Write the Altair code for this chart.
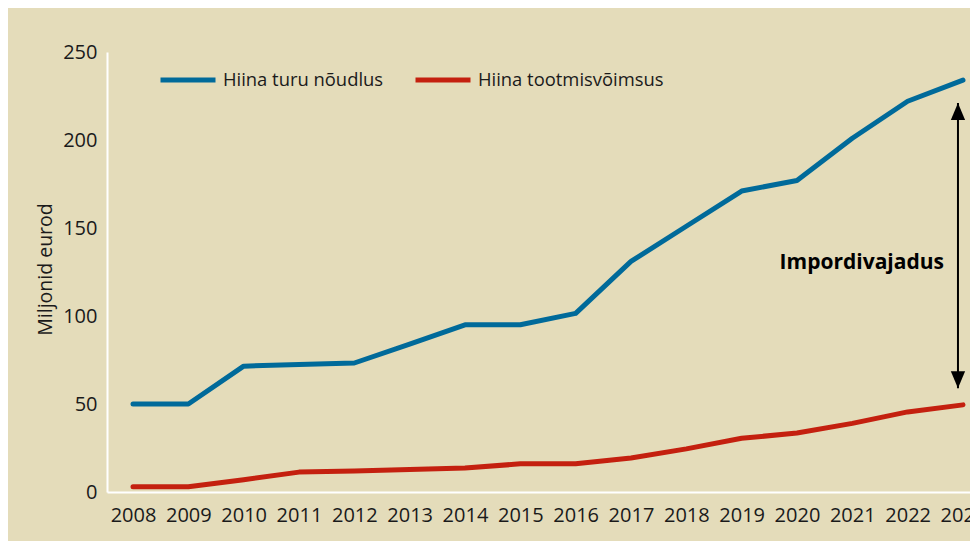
import altair as alt
import pandas as pd

years = list(range(2008, 2024))
demand = [50, 50, 71.5, 72.5, 73.3, 84, 95, 95, 101.5, 131, 151, 171, 177, 201, 222, 234]
capacity = [3, 3, 7, 11.3, 12, 12.8, 13.6, 16, 16, 19.3, 24.5, 30.5, 33.5, 39, 45.5, 49.5]
series_names = ["Hiina turu nõudlus", "Hiina tootmisvõimsus"]
series_colors = ["#006a9a", "#c4200f"]

annot_label = ["Impordivajadus"]
annot_year = [2023]
annot_top = [221]
annot_bottom = [59]
annot_mid = [130]

rows = []
for y, d, c in zip(years, demand, capacity):
    rows.append({"year": y, "value": d, "series": series_names[0]})
    rows.append({"year": y, "value": c, "series": series_names[1]})
df = pd.DataFrame(rows)

ann = pd.DataFrame({"year": annot_year, "top": annot_top, "bottom": annot_bottom,
                    "mid": annot_mid, "label": annot_label})

FONT = "Open Sans"
TXT = "#1a1a1a"
FS = 20

xscale = alt.Scale(domain=[2007.53, 2023.127], nice=False, zero=False)
yscale = alt.Scale(domain=[0, 250], nice=False)

lines = alt.Chart(df).mark_line(strokeWidth=5, strokeCap="round", strokeJoin="round").encode(
    x=alt.X("year:Q", scale=xscale,
            axis=alt.Axis(values=years, format="d", title=None, ticks=False, grid=False,
                          domainColor="white", domainWidth=2, labelPadding=13,
                          labelFontSize=FS, labelColor=TXT, labelFont=FONT,
                          labelFlush=False, labelOverlap=False)),
    y=alt.Y("value:Q", scale=yscale,
            axis=alt.Axis(values=[0, 50, 100, 150, 200, 250], title="Miljonid eurod",
                          ticks=False, grid=False, domainColor="white", domainWidth=2,
                          labelPadding=10, labelFontSize=FS, labelColor=TXT, labelFont=FONT,
                          titleFont=FONT, titleFontSize=19.5, titleFontWeight="normal",
                          titleColor=TXT, titleX=-62, titleY=217, titleAngle=270,
                          titleAlign="center", titleBaseline="middle")),
    color=alt.Color("series:N", scale=alt.Scale(domain=series_names, range=series_colors),
                    legend=alt.Legend(title=None, orient="none", legendX=51, legendY=-2,
                                      direction="horizontal", symbolType="stroke",
                                      symbolSize=3025, symbolStrokeWidth=5,
                                      labelFontSize=18.4, labelFont=FONT, labelColor=TXT,
                                      labelOffset=5, columnPadding=21, labelLimit=400)),
    order="year:Q",
)

rule = alt.Chart(ann).mark_rule(strokeWidth=2, color="black", xOffset=-5).encode(
    x=alt.X("year:Q", scale=xscale), y=alt.Y("top:Q", scale=yscale), y2="bottom:Q")

head_up = alt.Chart(ann).mark_point(shape="M0,0L-0.42,1L0.42,1Z", filled=True, opacity=1,
                                    color="black", size=1156, xOffset=-5).encode(
    x=alt.X("year:Q", scale=xscale), y=alt.Y("top:Q", scale=yscale))
head_down = alt.Chart(ann).mark_point(shape="M0,0L-0.42,-1L0.42,-1Z", filled=True, opacity=1,
                                      color="black", size=1156, xOffset=-5).encode(
    x=alt.X("year:Q", scale=xscale), y=alt.Y("bottom:Q", scale=yscale))

label = alt.Chart(ann).mark_text(align="right", baseline="middle", dx=-19, fontSize=21,
                                 fontWeight="bold", font=FONT, color="black").encode(
    x=alt.X("year:Q", scale=xscale), y=alt.Y("mid:Q", scale=yscale), text="label:N")

chart = alt.layer(lines, rule, head_up, head_down, label).properties(
    width=863, height=440, background="#e4dcba",
    padding={"left": 99, "top": 44, "right": 0, "bottom": 49},
    autosize=alt.AutoSizeParams(type="none"),
).configure_view(stroke=None)

chart.save("out.html", embed_options={"renderer": "svg", "actions": False})
